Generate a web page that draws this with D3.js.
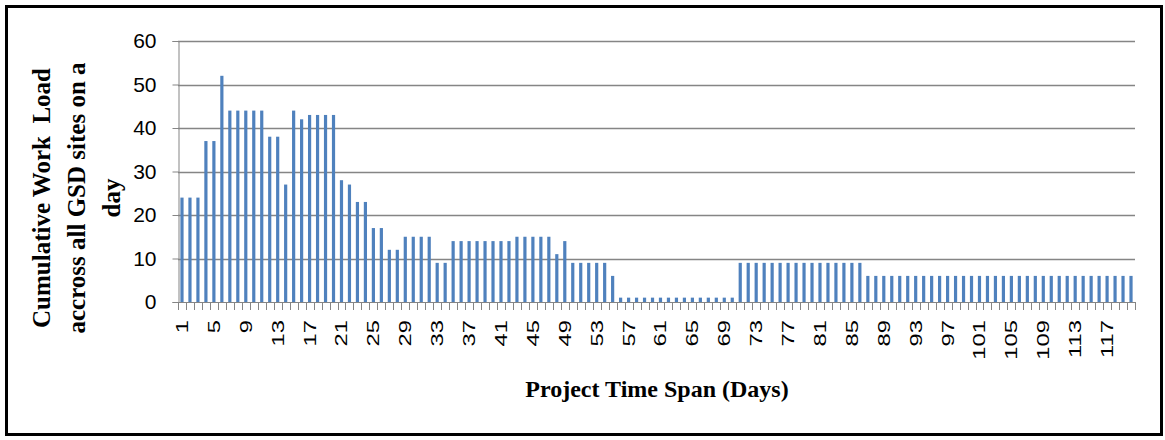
<!DOCTYPE html>
<html>
<head>
<meta charset="utf-8">
<script src="https://cdn.jsdelivr.net/npm/d3@7"></script>
<style>
  body { margin: 0; background: #fff; }
  .tick text { font-family: "Liberation Sans", Arial, sans-serif; fill: #000; }
  .axisTitle { font-family: "Liberation Serif", "Times New Roman", serif; font-weight: bold; fill: #000; white-space: pre; }
</style>
</head>
<body>
<div class="chart"></div>
<script>
// Daily work load, days 1..120

var days = d3.range(1, 121);

var workLoad = [
    24, 24, 24, 37, 37, 52, 44, 44, 44, 44,
    44, 38, 38, 27, 44, 42, 43, 43, 43, 43,
    28, 27, 23, 23, 17, 17, 12, 12, 15, 15,
    15, 15, 9, 9, 14, 14, 14, 14, 14, 14,
    14, 14, 15, 15, 15, 15, 15, 11, 14, 9,
    9, 9, 9, 9, 6, 1, 1, 1, 1, 1,
    1, 1, 1, 1, 1, 1, 1, 1, 1, 1,
    9, 9, 9, 9, 9, 9, 9, 9, 9, 9,
    9, 9, 9, 9, 9, 9, 6, 6, 6, 6,
    6, 6, 6, 6, 6, 6, 6, 6, 6, 6,
    6, 6, 6, 6, 6, 6, 6, 6, 6, 6,
    6, 6, 6, 6, 6, 6, 6, 6, 6, 6
];

var yTicks = [0, 10, 20, 30, 40, 50, 60];

// every 4th day gets a label
var xTickLabels = days.filter(function(d) { return (d - 1) % 4 === 0; });

var yTitleLines = ["Cumulative Work  Load", "accross all GSD sites on a", "day"];
var xTitle = "Project Time Span (Days)";

var svgWidth = 1165;
var svgHeight = 440;

var plot = { left: 178, right: 1135, top: 41, bottom: 302 };

var svg = d3.select(".chart")
    .append("svg")
    .attr("width", svgWidth)
    .attr("height", svgHeight);

// outer frame
svg.append("rect")
    .attr("x", 6.5)
    .attr("y", 6.5)
    .attr("width", 1155)
    .attr("height", 428)
    .attr("fill", "none")
    .attr("stroke", "#000")
    .attr("stroke-width", 3);

var xScale = d3.scaleBand()
    .domain(days)
    .range([plot.left, plot.right])
    .paddingInner(0.6)
    .paddingOuter(0.3);

var yScale = d3.scaleLinear()
    .domain([0, 60])
    .range([plot.bottom, plot.top]);

// gridlines
svg.append("g")
    .selectAll("line")
    .data(yTicks.filter(function(d) { return d > 0; }))
    .enter()
    .append("line")
    .attr("x1", plot.left)
    .attr("x2", plot.right)
    .attr("y1", function(d) { return Math.round(yScale(d)) + 0.5; })
    .attr("y2", function(d) { return Math.round(yScale(d)) + 0.5; })
    .attr("stroke", "#858585")
    .attr("stroke-width", 1.4);

// bars
svg.append("g")
    .selectAll("rect")
    .data(workLoad)
    .enter()
    .append("rect")
    .attr("x", function(d, i) { return xScale(days[i]); })
    .attr("y", function(d) { return yScale(d); })
    .attr("width", xScale.bandwidth())
    .attr("height", function(d) { return plot.bottom - yScale(d); })
    .attr("fill", "#4f81bd");

// y axis
var leftAxis = d3.axisLeft(yScale)
    .tickValues(yTicks)
    .tickSize(6)
    .tickPadding(16);

var yAxisG = svg.append("g")
    .attr("transform", "translate(" + (plot.left + 0.5) + ",0)")
    .call(leftAxis);

yAxisG.select(".domain").attr("stroke", "#858585");
yAxisG.selectAll(".tick line").attr("stroke", "#858585");
yAxisG.selectAll(".tick text").attr("font-size", "21px");

// x axis: line + ticks at category boundaries
var xAxisG = svg.append("g");

xAxisG.append("line")
    .attr("x1", plot.left)
    .attr("x2", plot.right)
    .attr("y1", plot.bottom + 0.5)
    .attr("y2", plot.bottom + 0.5)
    .attr("stroke", "#858585");

xAxisG.selectAll(".xtick")
    .data(days.concat([days.length + 1]))
    .enter()
    .append("line")
    .attr("class", "xtick")
    .attr("x1", function(d, i) { return Math.round(plot.left + i * (plot.right - plot.left) / days.length) + 0.5; })
    .attr("x2", function(d, i) { return Math.round(plot.left + i * (plot.right - plot.left) / days.length) + 0.5; })
    .attr("y1", plot.bottom)
    .attr("y2", plot.bottom + 8)
    .attr("stroke", "#858585");

xAxisG.selectAll(".xlabel")
    .data(xTickLabels)
    .enter()
    .append("text")
    .attr("class", "xlabel")
    .attr("transform", function(d) {
        var cx = xScale(d) + xScale.bandwidth() / 2 + 6;
        return "translate(" + cx + "," + 320 + ") rotate(-90) scale(1.4,1)";
    })
    .attr("text-anchor", "end")
    .attr("font-family", "Liberation Sans, Arial, sans-serif")
    .attr("font-size", "17px")
    .text(function(d) { return d; });

// axis titles
svg.append("text")
    .attr("class", "axisTitle")
    .attr("x", 657)
    .attr("y", 397)
    .attr("text-anchor", "middle")
    .attr("font-size", "24px")
    .text(xTitle);

svg.append("g")
    .selectAll("text")
    .data(yTitleLines)
    .enter()
    .append("text")
    .attr("class", "axisTitle")
    .attr("transform", function(d, i) {
        return "translate(" + (50 + i * 35) + ",198) rotate(-90)";
    })
    .attr("text-anchor", "middle")
    .attr("font-size", "25px")
    .text(function(d) { return d; });
</script>
</body>
</html>
